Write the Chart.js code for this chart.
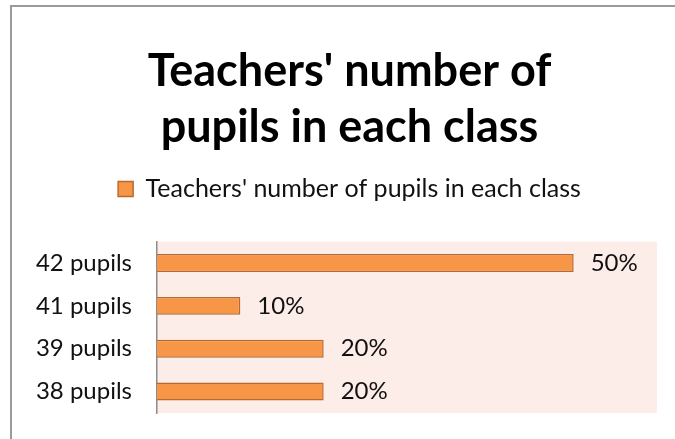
<!DOCTYPE html>
<html>
<head>
<meta charset="utf-8">
<script src="https://cdn.jsdelivr.net/npm/chart.js@4"></script>
<style>
  html, body { margin: 0; padding: 0; background: #fff; }
  #wrap { width: 675px; height: 439px; position: relative; }
</style>
</head>
<body>
<div id="wrap"><canvas id="chart" width="675" height="439"></canvas></div>
<script>
// Chart data
const categories = ["42 pupils", "41 pupils", "39 pupils", "38 pupils"];
const shares = [0.5, 0.1, 0.2, 0.2];
const seriesName = "Teachers' number of pupils in each class";
const titleLines = ["Teachers' number of", "pupils in each class"];

const FONT = "Lato, 'Liberation Sans', sans-serif";

// Pink plot background + outer frame
const backdrop = {
  id: "backdrop",
  beforeDraw(chart) {
    const { ctx, chartArea } = chart;
    ctx.save();
    ctx.fillStyle = "#fcede8";
    ctx.fillRect(chartArea.left, chartArea.top,
      chartArea.right - chartArea.left, chartArea.bottom - chartArea.top);
    // frame around the whole chart (only top and left are in view)
    ctx.strokeStyle = "#9a9a9a";
    ctx.lineWidth = 2;
    ctx.beginPath();
    ctx.moveTo(11, 439);
    ctx.lineTo(11, 6);
    ctx.lineTo(675, 6);
    ctx.stroke();
    ctx.restore();
  }
};

// Title and legend sit a bit right of the canvas centre in the original
const shiftHeader = {
  id: "shiftHeader",
  afterLayout(chart) {
    [chart.titleBlock, chart.legend].forEach((box) => {
      if (!box) return;
      box.left += 15;
      box.right += 15;
    });
  }
};

// Percent labels to the right of each bar
const valueLabels = {
  id: "valueLabels",
  afterDatasetsDraw(chart) {
    const { ctx } = chart;
    const meta = chart.getDatasetMeta(0);
    ctx.save();
    ctx.fillStyle = "#111";
    ctx.font = "24px " + FONT;
    ctx.textBaseline = "middle";
    ctx.textAlign = "left";
    meta.data.forEach((bar, i) => {
      const label = Math.round(shares[i] * 100) + "%";
      ctx.fillText(label, bar.x + 17, bar.y);
    });
    ctx.restore();
  }
};

new Chart(document.getElementById("chart"), {
  type: "bar",
  data: {
    labels: categories,
    datasets: [
      {
        label: seriesName,
        data: shares,
        backgroundColor: "#f79646",
        borderColor: "#b9692c",
        borderWidth: 1.5,
        categoryPercentage: 1,
        barPercentage: 0.42,
      },
    ],
  },
  options: {
    indexAxis: "y",
    responsive: false,
    animation: false,
    layout: {
      padding: { left: 12, right: 18, top: 0, bottom: 26 },
    },
    plugins: {
      title: {
        display: true,
        text: titleLines,
        color: "#000",
        font: { family: FONT, size: 45, weight: "bold", lineHeight: 1.24 },
        padding: { top: 44, bottom: -30 },
      },
      legend: {
        display: true,
        position: "top",
        labels: {
          color: "#111",
          font: { family: FONT, size: 25 },
          boxWidth: 15,
          boxHeight: 15,
          padding: 51,
        },
      },
      tooltip: { enabled: false },
    },
    scales: {
      x: {
        // hidden axis on top, only used as a spacer under the legend
        display: true,
        position: "top",
        min: 0,
        max: 0.6,
        grid: { display: false, drawTicks: false },
        border: { display: false },
        ticks: { display: false },
        afterFit(scale) {
          scale.height = 30;
        },
      },
      y: {
        grid: { display: false, drawTicks: false },
        border: { display: true, color: "#8c8c8c", width: 1.5 },
        ticks: {
          color: "#111",
          padding: 25,
          font: { family: FONT, size: 24 },
        },
        afterFit(scale) {
          scale.width = 145;
          // no extra room above/below for the edge labels
          scale.paddingTop = 0;
          scale.paddingBottom = 0;
        },
      },
    },
  },
  plugins: [backdrop, shiftHeader, valueLabels],
});
</script>
</body>
</html>
